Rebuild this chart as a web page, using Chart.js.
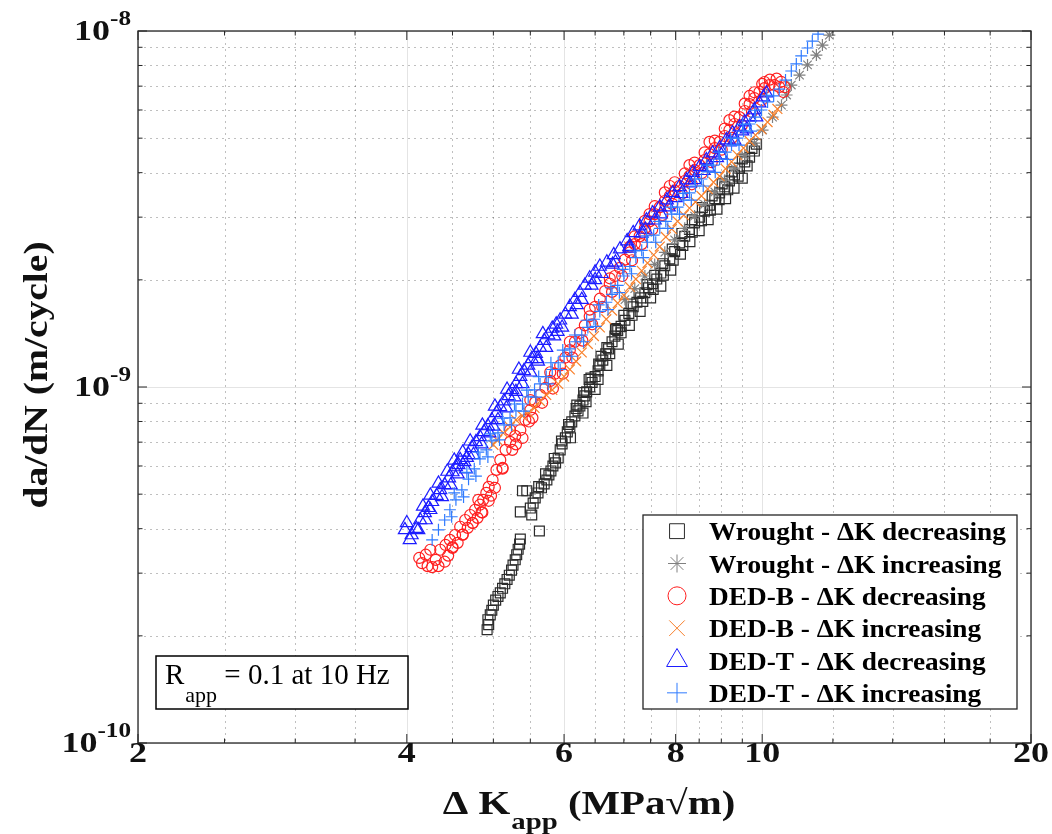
<!DOCTYPE html>
<html>
<head>
<meta charset="utf-8">
<script src="https://cdn.jsdelivr.net/npm/chart.js@4.4.1/dist/chart.umd.min.js"></script>
<style>
  html, body { margin: 0; padding: 0; background: #fff; }
  canvas { display: block; }
</style>
</head>
<body>
<canvas id="c" width="1052" height="834"></canvas>
<script>
// y values are given in units of 1e-10 m/cycle
const Y_UNIT = 1e-10;

const wroughtDecX = [4.92,4.94,4.93,4.96,4.98,5.00,5.03,5.06,5.09,5.12,5.15,5.18,5.21,5.24,5.26,5.29,5.31,5.33,5.35,5.36,
  5.39,5.45,5.36,5.52,5.63,
  5.50,5.54,5.57,5.61,5.66,5.70,5.74,5.77,5.80,5.83,5.87,5.91,5.94,5.97,6.02,6.05,6.09,6.12,6.17,6.22,6.25,6.30,6.33,6.36,6.41,
  6.45,6.50,6.55,6.58,6.63,6.68,6.73,6.79,6.84,6.89,6.95,7.02,7.09,7.17,7.24,7.31,7.39,7.46,7.54,7.62,7.70,7.78,7.88,7.98,8.08,
  8.19,8.29,8.40,8.51,8.62,8.73,8.85,8.96,9.08,9.19,9.31,9.43,9.56,9.68,9.80,9.85,
  6.35,6.55,6.75,6.95,7.15,7.35,7.55,7.75,7.95,8.15,8.35,8.55,8.75,8.95,9.15,9.40,9.62,
  6.20,6.40,6.60,6.85,
  5.62,5.72,5.85,5.96,6.07,6.19,6.31,6.43,6.56,6.70,6.86,7.00,7.13,7.28,7.43,7.58,7.74,7.93,8.13,8.35,8.57,8.79,9.02,9.25,9.50,9.74,
  6.10,6.30,6.50,6.70,6.90,7.10,7.30,7.50,7.70,7.90,8.10,8.30,8.50,8.70,8.90,9.10,9.30,9.50];
const wroughtDecY = [2.08,2.15,2.22,2.29,2.36,2.44,2.52,2.58,2.64,2.72,2.80,2.88,2.96,3.06,3.16,3.27,3.38,3.50,3.62,3.74,
  5.11,5.11,4.46,4.37,3.94,
  4.57,4.72,4.88,5.04,5.21,5.34,5.48,5.66,5.81,6.00,6.12,6.32,6.66,6.92,7.20,7.48,7.73,7.98,8.29,8.57,8.84,9.19,9.44,9.69,10.0,
  10.3,10.7,11.1,11.5,11.9,12.4,12.8,13.4,13.9,14.4,14.8,15.4,16.1,16.8,17.3,17.8,18.4,19.0,19.5,20.1,20.9,21.9,22.9,24.0,25.4,
  26.5,27.7,28.9,30.0,31.2,32.4,33.8,35.1,36.5,37.9,39.4,41.2,42.9,44.2,46.0,48.1,
  9.1,10.5,12.4,14.2,15.9,17.4,18.8,20.6,22.7,25.0,27.2,29.3,31.4,33.6,35.8,39.1,41.8,
  8.9,10.5,12.2,14.6,
  5.25,5.70,6.30,7.05,7.85,8.70,9.65,10.6,11.6,12.9,14.5,15.9,17.1,18.3,19.4,20.6,22.2,24.4,27.0,29.5,31.9,34.4,37.2,40.2,43.7,46.8,
  7.2,8.45,9.85,11.5,13.2,14.9,16.3,17.8,19.2,21.3,23.6,25.6,27.5,29.5,31.6,33.8,36.2,38.6];

const wroughtIncX = [7.02,7.20,7.39,7.58,7.78,7.98,8.19,8.40,8.62,8.85,9.08,9.31,9.56,9.80,10.01,10.27,10.51,10.65,10.78,11.01,11.24,11.50,11.68,11.89];
const wroughtIncY = [17.6,18.9,20.5,22.1,23.9,25.9,27.9,30.2,32.6,35.3,38.1,41.2,44.8,48.4,52.7,57.3,61.9,66.1,70.5,75.2,80.3,85.6,91.3,97.4];

const dedBDecX = [4.13,4.16,4.22,4.27,4.34,4.41,4.45,4.20,4.31,4.25,4.36,4.42,4.47,4.53,4.59,4.65,4.71,4.77,4.83,4.87,
  4.81,4.91,4.94,4.99,5.04,5.09,5.16,5.22,5.29,5.36,5.43,5.50,5.57,5.64,5.72,5.79,5.86,5.94,6.02,6.09,
  6.17,6.25,6.33,6.41,6.50,6.58,6.67,6.75,6.84,6.93,7.02,7.11,7.20,7.29,7.39,7.48,7.58,7.68,7.78,7.88,
  7.98,8.08,8.19,8.29,8.40,8.51,8.62,8.73,8.85,8.96,9.08,9.19,9.31,9.43,9.56,9.68,9.80,9.93,10.06,10.19,10.32,10.45,10.56,
  5.22,5.50,5.79,6.09,6.41,6.75,7.11,7.48,7.88,8.29,8.73,9.19,9.68,10.06,
  4.50,4.62,4.74,4.85,4.97,5.12,5.30,5.48,
  4.50,4.56,4.62,4.68,4.74,4.80,4.86,4.94,5.02,5.12,5.25,5.39,5.53,5.67,5.83,5.98,6.13,6.29,6.45,6.62,
  6.79,6.97,7.15,7.33,7.53,7.73,7.93,8.13,8.34,8.56,8.78,9.01,9.25,9.49,9.74,9.99,
  7.20,7.39,7.58,7.78,7.98,8.19,8.40,8.62,8.85,9.08,9.31,9.56,9.80,10.00,10.20,10.38,10.50,10.60];
const dedBDecY = [3.31,3.20,3.14,3.12,3.14,3.23,3.36,3.38,3.27,3.49,3.49,3.60,3.72,3.84,4.05,4.23,4.37,4.52,4.67,4.82,
  4.82,5.04,5.24,5.48,5.85,6.24,6.66,7.01,7.29,7.57,8.08,8.62,9.07,9.50,9.94,10.4,10.9,11.5,12.1,12.7,
  13.4,14.2,14.9,15.8,16.8,17.7,18.6,19.5,20.5,21.6,22.8,23.9,25.2,26.5,27.9,29.2,30.6,32.0,33.3,34.4,
  35.6,36.7,37.9,39.1,40.7,42.0,43.4,45.1,46.9,48.8,50.7,52.7,54.8,57.3,59.6,62.3,64.8,67.4,69.1,70.5,70.5,69.6,67.4,
  7.57,9.19,11.0,13.4,16.5,20.2,24.8,30.6,36.7,42.0,48.8,56.2,65.7,71.9,
  3.55,3.85,4.15,4.45,4.95,5.90,6.90,8.00,
  3.53,3.65,3.85,4.02,4.15,4.29,4.44,4.79,5.21,5.93,6.66,7.19,8.19,9.03,9.9,10.9,12.1,13.5,15.0,16.8,
  18.5,20.5,22.7,25.2,27.7,30.4,32.7,34.9,37.1,39.9,42.8,46.4,50.1,54.4,59.2,64.0,
  26.5,29.3,32.2,35.2,37.6,39.8,42.7,45.6,49.2,53.2,57.5,62.5,67.3,71.0,73.0,73.5,72.0,69.5];

const dedBIncX = [5.00,5.05,5.13,5.22,5.30,5.39,5.47,5.56,5.64,5.73,5.82,5.91,6.00,6.09,6.19,6.28,6.38,6.48,6.58,6.69,
  6.79,6.89,7.00,7.11,7.22,7.33,7.44,7.56,7.68,7.80,7.92,8.04,8.17,8.29,8.42,8.55,8.69,8.82,8.96,9.10,
  9.24,9.38,9.53,9.68,9.83,9.98,10.14,10.30,10.40];
const dedBIncY = [6.88,7.10,7.43,7.72,8.08,8.29,8.46,8.73,9.13,9.50,9.81,10.2,10.7,11.2,11.8,12.5,13.2,13.9,14.7,15.5,
  16.4,17.2,18.1,19.1,20.1,21.2,22.3,23.5,24.8,26.4,27.8,29.2,30.4,31.8,33.1,34.4,36.0,37.6,39.1,41.0,
  42.9,44.8,46.9,49.1,51.0,53.0,55.5,58.1,60.4];

const dedTDecX = [3.98,4.00,4.03,4.05,4.10,4.14,4.19,4.23,4.27,4.32,4.36,4.41,4.46,4.50,4.54,4.59,4.64,4.69,4.73,4.78,
  4.83,4.88,4.93,4.98,5.04,5.09,5.14,5.20,5.25,5.30,5.36,5.41,5.47,5.52,5.58,5.64,5.70,5.76,5.82,5.88,
  5.94,6.02,6.09,6.17,6.25,6.33,6.41,6.50,6.58,6.70,6.82,6.93,7.06,7.17,7.29,7.42,7.54,7.68,7.82,7.94,
  8.08,8.23,8.36,8.51,8.66,8.80,8.96,9.12,9.26,9.43,9.56,9.68,9.80,9.93,10.03,10.11,
  4.12,4.20,4.25,4.57,4.67,
  5.00,5.30,5.60,5.90,6.20,6.50,6.80,7.10,7.40,7.70,8.00,8.30,8.60,8.90,9.20,9.50,
  4.38,4.48,4.56,4.66,4.75,4.85,4.95,5.06,5.17,5.28,5.39,5.50,5.61,5.73,5.85,5.97,6.12,6.28,6.44,6.61,
  6.85,7.10,7.33,7.58,7.86,8.12,8.40,8.70,9.00,9.31,9.61,9.85,
  4.17,4.25,4.34,4.44,4.52,4.62,4.71,4.86,5.02,5.18,5.34,5.50,5.68];
const dedTDecY = [3.97,4.15,3.72,3.84,4.00,4.23,4.43,4.58,4.76,4.95,5.14,5.31,5.55,5.77,5.96,6.24,6.16,6.45,6.75,7.01,
  7.24,7.48,7.77,8.08,8.46,8.79,9.13,9.44,9.81,10.2,10.7,11.1,11.5,12.0,12.4,12.9,13.5,14.0,14.6,15.0,
  15.4,16.0,16.8,17.6,18.4,19.3,20.2,21.0,21.8,22.4,23.5,24.4,25.7,27.1,28.3,29.4,30.8,32.0,33.5,35.1,
  36.5,38.1,40.0,41.5,43.4,45.4,46.9,49.4,51.6,53.7,55.5,57.3,60.0,62.7,65.2,66.9,
  3.97,4.23,4.52,6.04,6.33,
  7.75,9.7,12.0,14.3,17.0,20.0,22.1,24.8,27.7,30.6,34.0,37.4,40.5,44.0,48.7,52.3,
  4.91,5.30,5.69,5.88,6.45,6.91,7.42,8.08,8.72,9.37,10.2,11.0,11.8,12.9,13.9,14.7,16.0,17.6,19.3,20.8,
  22.4,24.5,27.0,29.4,32.0,34.9,38.2,41.4,44.8,49.3,53.0,57.3,
  4.62,4.96,5.36,5.79,6.22,6.55,7.04,7.80,8.82,9.84,11.2,12.5,14.1];

const dedTIncX = [4.27,4.34,4.41,4.47,4.54,4.61,4.69,4.76,4.83,4.91,4.98,5.06,5.14,5.22,5.30,5.39,5.47,5.56,5.64,5.73,
  5.82,5.91,6.00,6.09,6.19,6.28,6.38,6.48,6.58,6.69,6.79,6.89,7.00,7.11,7.22,7.33,7.44,7.56,7.68,7.80,
  7.92,8.04,8.17,8.29,8.42,8.55,8.69,8.82,8.96,9.10,9.24,9.38,9.53,9.68,9.83,9.98,10.14,10.30,10.45,10.62,
  10.78,10.92,11.06,11.24,11.38,11.55,
  4.49,4.63,4.78,4.93,5.08,5.24,5.41,5.58,5.76,5.94,6.12,6.31,6.51,6.72,6.92,7.14,7.36,7.60,7.84,8.08,
  8.33,8.59,8.86,9.14,9.42,9.72,
  4.52,4.67,4.81,4.96,5.12,5.28,5.45,5.62,5.80,5.98,6.17,6.36,6.56,6.77,6.98,7.20,7.42,7.66,7.90,8.15,
  8.40,8.67,8.94,9.22,9.51,9.81,10.12];
const dedTIncY = [3.72,3.97,4.23,4.52,4.82,5.14,5.51,5.89,6.28,6.66,7.06,7.43,7.82,8.19,8.57,8.96,9.38,9.81,10.2,10.7,
  11.2,11.7,12.2,12.8,13.4,14.0,14.7,15.5,16.3,17.3,18.2,19.3,20.5,21.8,23.1,24.2,25.5,26.7,27.9,29.2,
  30.6,32.0,33.5,35.1,36.7,38.4,40.2,42.0,43.7,45.7,47.8,50.0,52.3,54.8,57.3,60.0,63.2,65.7,68.7,72.8,
  77.2,80.8,85.1,89.6,93.7,98.0,
  4.32,4.91,5.62,6.36,7.10,7.82,8.56,9.37,10.2,11.2,12.2,13.4,14.8,16.5,18.4,20.8,23.1,25.5,27.9,30.6,
  33.5,36.7,40.1,43.6,47.8,52.3,
  5.04,5.76,6.56,7.38,8.17,8.96,9.80,10.7,11.7,12.7,14.0,15.4,17.0,19.0,21.4,24.1,26.6,29.2,32.0,35.0,
  38.4,42.0,45.7,50.0,54.7,59.9,66.0];

const seriesLabels = [
  'Wrought - \u0394K decreasing',
  'Wrought - \u0394K increasing',
  'DED-B - \u0394K decreasing',
  'DED-B - \u0394K increasing',
  'DED-T - \u0394K decreasing',
  'DED-T - \u0394K increasing'
];

const xMajorTicks = [2, 4, 6, 8, 10, 20];
const xMinorTicks = [2.5, 3, 3.5, 4.5, 5, 5.5, 6.5, 7, 7.5, 8.5, 9, 9.5, 12, 14, 16, 18];
const yMajorTicks = [1e-10, 1e-9, 1e-8];
const yTickExp = [-10, -9, -8];
const yMinorTicks = [2e-10, 3e-10, 4e-10, 5e-10, 6e-10, 7e-10, 8e-10, 9e-10,
                     2e-9, 3e-9, 4e-9, 5e-9, 6e-9, 7e-9, 8e-9, 9e-9];

const AX_COLOR = '#262626';
const SERIF = '"Liberation Serif", "Times New Roman", serif';
const SX = 1.2; // bold labels in the figure run a bit wider than Liberation Serif Bold

function pts(xs, ys) {
  return xs.map((v, i) => ({ x: v, y: ys[i] * Y_UNIT }));
}

function drawText(ctx, str, x, y, font, align, sx) {
  ctx.font = font;
  const w = ctx.measureText(str).width * sx;
  const x0 = align === 'center' ? x - w / 2 : align === 'right' ? x - w : x;
  ctx.save();
  ctx.translate(x0, y);
  ctx.scale(sx, 1);
  ctx.textAlign = 'left';
  ctx.textBaseline = 'alphabetic';
  ctx.fillText(str, 0, 0);
  ctx.restore();
  return w;
}

function textW(ctx, str, font, sx) {
  ctx.font = font;
  return ctx.measureText(str).width * sx;
}

function seg(ctx, x1, y1, x2, y2) {
  ctx.beginPath(); ctx.moveTo(x1, y1); ctx.lineTo(x2, y2); ctx.stroke();
}

const styles = [
  { pointStyle: 'rect',      color: '#2b2b2b', radius: 7,   legendRadius: 10.5 },
  { pointStyle: 'star',      color: '#808080', radius: 6,   legendRadius: 9 },
  { pointStyle: 'circle',    color: '#ff1f1f', radius: 5.5, legendRadius: 9 },
  { pointStyle: 'crossRot',  color: '#f8802c', radius: 7,   legendRadius: 11 },
  { pointStyle: 'triangle',  color: '#1c1cff', radius: 7.5, legendRadius: 12 },
  { pointStyle: 'cross',     color: '#2f7bff', radius: 6,   legendRadius: 10 }
];

const seriesData = [
  pts(wroughtDecX, wroughtDecY),
  pts(wroughtIncX, wroughtIncY),
  pts(dedBDecX, dedBDecY),
  pts(dedBIncX, dedBIncY),
  pts(dedTDecX, dedTDecY),
  pts(dedTIncX, dedTIncY)
];

const datasets = seriesData.map((d, i) => ({
  label: seriesLabels[i],
  data: d,
  pointStyle: styles[i].pointStyle,
  pointRadius: styles[i].radius,
  pointBorderColor: styles[i].color,
  pointBackgroundColor: 'rgba(0,0,0,0)',
  pointBorderWidth: 1.2,
  showLine: false,
  order: 6 - i   // later series drawn on top, as in the original figure
}));

const matlabAxes = {
  id: 'matlabAxes',
  beforeDatasetsDraw(chart) {
    const { ctx, chartArea: a, scales: { x, y } } = chart;
    ctx.save();
    ctx.lineWidth = 1;
    // minor grid (dotted)
    ctx.strokeStyle = 'rgba(0,0,0,0.25)';
    ctx.setLineDash([2, 4]);
    xMinorTicks.forEach(v => { const p = Math.round(x.getPixelForValue(v)) + 0.5; seg(ctx, p, a.top, p, a.bottom); });
    yMinorTicks.forEach(v => { const p = Math.round(y.getPixelForValue(v)) + 0.5; seg(ctx, a.left, p, a.right, p); });
    // major grid (solid, light)
    ctx.setLineDash([]);
    ctx.strokeStyle = '#e4e4e4';
    xMajorTicks.forEach(v => { const p = Math.round(x.getPixelForValue(v)) + 0.5; seg(ctx, p, a.top, p, a.bottom); });
    yMajorTicks.forEach(v => { const p = Math.round(y.getPixelForValue(v)) + 0.5; seg(ctx, a.left, p, a.right, p); });
    ctx.restore();
  },
  afterDraw(chart) {
    const { ctx, chartArea: a, scales: { x, y } } = chart;
    ctx.save();
    // box
    ctx.strokeStyle = AX_COLOR;
    ctx.lineWidth = 1.3;
    ctx.strokeRect(a.left, a.top, a.right - a.left, a.bottom - a.top);
    // inward ticks on all four sides
    const tick = (list, len) => {
      list.forEach(v => {
        const p = x.getPixelForValue(v);
        seg(ctx, p, a.bottom, p, a.bottom - len);
        seg(ctx, p, a.top, p, a.top + len);
      });
    };
    const ytick = (list, len) => {
      list.forEach(v => {
        const p = y.getPixelForValue(v);
        seg(ctx, a.left, p, a.left + len, p);
        seg(ctx, a.right, p, a.right - len, p);
      });
    };
    ctx.lineWidth = 1;
    tick(xMajorTicks, 9); tick(xMinorTicks, 4.5);
    ytick(yMajorTicks, 9); ytick(yMinorTicks, 4.5);

    ctx.fillStyle = '#111';
    const tickFont = `bold 30px ${SERIF}`;
    const supFont = `bold 21px ${SERIF}`;
    // x tick labels
    xMajorTicks.forEach(v => drawText(ctx, String(v), x.getPixelForValue(v), a.bottom + 19, tickFont, 'center', SX));
    // y tick labels 10^n
    yMajorTicks.forEach((v, i) => {
      const py = y.getPixelForValue(v);
      const sup = '-' + Math.abs(yTickExp[i]);
      const right = a.left - 7;
      const sw = textW(ctx, sup, supFont, SX);
      const bw = textW(ctx, '10', tickFont, SX);
      drawText(ctx, '10', right - sw - bw, py + 9, tickFont, 'left', SX);
      drawText(ctx, sup, right - sw, py - 6, supFont, 'left', SX);
    });

    // y axis title
    ctx.save();
    ctx.translate(47, (a.top + a.bottom) / 2 - 12);
    ctx.rotate(-Math.PI / 2);
    drawText(ctx, 'da/dN (m/cycle)', 0, 0, `bold 33px ${SERIF}`, 'center', SX);
    ctx.restore();

    // x axis title:  Δ K_app (MPa√m)
    const tF = `bold 34px ${SERIF}`, sF = `bold 24px ${SERIF}`;
    const p1 = '\u0394 K', p2 = 'app', p3 = ' (MPa\u221Am)';
    const w1 = textW(ctx, p1, tF, SX), w2 = textW(ctx, p2, sF, SX), w3 = textW(ctx, p3, tF, SX);
    let tx = (a.left + a.right) / 2 + 4 - (w1 + w2 + w3) / 2;
    const tb = 814;
    drawText(ctx, p1, tx, tb, tF, 'left', SX); tx += w1 + 1;
    drawText(ctx, p2, tx, tb + 15, sF, 'left', SX); tx += w2;
    drawText(ctx, p3, tx, tb, tF, 'left', SX);

    // legend
    const lg = { l: 643, t: 515, r: 1017, b: 709 };
    ctx.fillStyle = '#fff';
    ctx.fillRect(lg.l, lg.t, lg.r - lg.l, lg.b - lg.t);
    ctx.strokeStyle = AX_COLOR; ctx.lineWidth = 1.3;
    ctx.strokeRect(lg.l, lg.t, lg.r - lg.l, lg.b - lg.t);
    const rowH = (lg.b - lg.t) / seriesLabels.length;
    seriesLabels.forEach((lab, i) => {
      const cy = lg.t + rowH * (i + 0.5);
      ctx.strokeStyle = styles[i].color;
      ctx.fillStyle = 'rgba(0,0,0,0)';
      ctx.lineWidth = 1;
      if (Chart.helpers && Chart.helpers.drawPoint) {
        Chart.helpers.drawPoint(ctx, { pointStyle: styles[i].pointStyle, radius: styles[i].legendRadius, rotation: 0, borderWidth: 1 }, 677, cy);
      }
      ctx.fillStyle = '#000';
      drawText(ctx, lab, 709, cy + 9, `bold 26px ${SERIF}`, 'left', 1.05);
    });

    // annotation box
    const ab = { l: 156, t: 656, r: 408, b: 709 };
    ctx.fillStyle = '#fff';
    ctx.fillRect(ab.l, ab.t, ab.r - ab.l, ab.b - ab.t);
    ctx.strokeStyle = '#000'; ctx.lineWidth = 1.5;
    ctx.strokeRect(ab.l, ab.t, ab.r - ab.l, ab.b - ab.t);
    ctx.fillStyle = '#000';
    let ax = 165;
    ax += drawText(ctx, 'R', ax, 684, `29px ${SERIF}`, 'left', 1);
    ax += drawText(ctx, 'app', ax + 1, 702, `22px ${SERIF}`, 'left', 1) + 1;
    drawText(ctx, ' = 0.1 at 10 Hz', ax, 684, `29px ${SERIF}`, 'left', 1);
    ctx.restore();
  }
};

new Chart(document.getElementById('c'), {
  type: 'scatter',
  data: { datasets },
  options: {
    responsive: false,
    devicePixelRatio: 1,
    animation: false,
    events: [],
    layout: { padding: { left: 138, top: 31, right: 21, bottom: 91 } },
    plugins: { legend: { display: false }, tooltip: { enabled: false } },
    scales: {
      x: { type: 'logarithmic', min: 2, max: 20, display: false },
      y: { type: 'logarithmic', min: 1e-10, max: 1e-8, display: false }
    }
  },
  plugins: [matlabAxes]
});
</script>
</body>
</html>
